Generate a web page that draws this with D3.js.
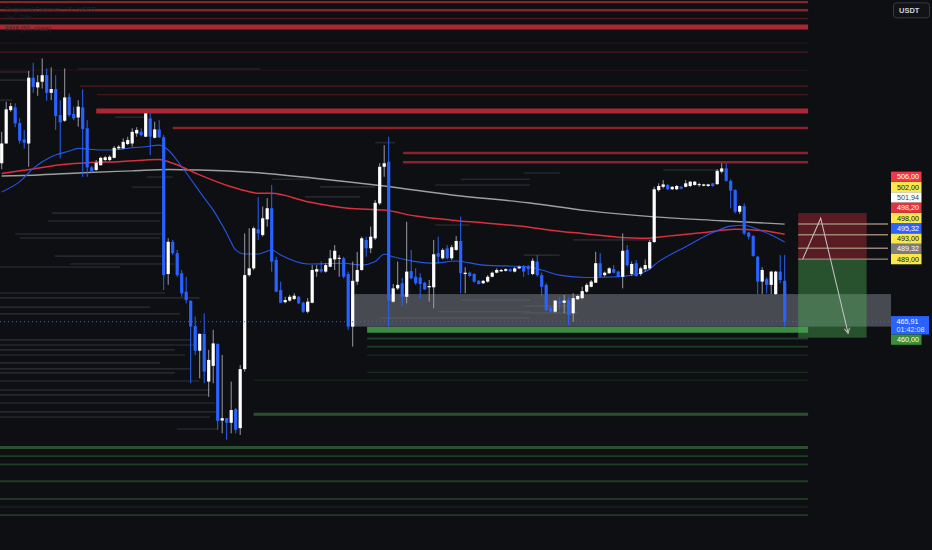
<!DOCTYPE html>
<html>
<head>
<meta charset="utf-8">
<script src="https://cdn.jsdelivr.net/npm/d3@7/dist/d3.min.js"></script>
<style>
  html, body { margin: 0; padding: 0; background: #0e0f13; }
  svg { display: block; }
</style>
</head>
<body>
<svg id="chart" width="932" height="550"></svg>
<script>
// bars, one row per candle: [open, high, low, close]
var candles = [
  [524.4,536.0,522.2,531.7],[531.7,547.1,531.7,544.3],[544.0,546.7,543.4,545.5],[545.0,546.5,537.7,539.1],
  [539.3,541.0,531.7,532.7],[533.2,536.7,529.8,532.0],[531.7,558.5,523.1,556.0],[556.0,561.5,550.4,552.6],
  [552.4,556.9,549.3,554.3],[554.5,563.1,552.0,556.9],[556.9,559.4,547.5,550.4],[550.4,559.8,547.7,551.8],
  [551.8,556.9,536.7,541.9],[542.2,547.7,526.2,539.5],[540.1,559.4,539.7,548.7],[548.9,550.2,541.6,542.2],
  [542.6,545.3,540.3,541.0],[541.3,547.7,537.9,545.3],[545.0,551.7,519.4,537.0],[537.3,540.3,519.4,522.9],
  [522.9,523.4,520.9,521.3],[521.9,525.6,521.6,524.6],[523.7,526.8,523.5,526.4],[525.6,527.1,525.2,526.6],
  [525.6,527.4,525.2,526.8],[526.4,530.8,526.2,530.1],[529.9,531.1,529.3,530.5],[529.9,533.6,529.6,532.3],
  [531.5,534.2,531.1,533.0],[531.7,537.3,530.5,536.0],[535.4,537.7,534.2,536.7],[536.0,537.3,534.4,534.8],
  [534.2,542.9,534.1,542.8],[541.0,542.9,527.4,534.2],[533.8,539.7,533.6,536.9],[536.9,540.3,533.7,534.0],
  [534.0,534.8,477.6,483.1],[483.5,496.7,479.5,495.4],[495.4,496.1,490.5,491.2],[491.2,492.4,482.5,483.1],
  [483.8,485.0,475.1,476.4],[477.0,482.5,472.7,473.9],[473.6,473.9,443.2,464.1],[464.3,467.8,453.6,455.2],
  [455.2,461.6,445.0,461.4],[461.4,469.0,443.2,447.5],[443.8,455.5,438.2,451.8],[449.6,462.9,443.2,457.9],
  [457.7,457.9,426.0,429.3],[429.4,453.6,424.7,430.3],[430.3,430.4,422.3,428.6],[428.6,443.8,424.7,433.3],
  [433.6,434.1,424.7,426.0],[426.6,449.9,424.1,448.4],[448.4,498.5,447.5,483.1],[483.1,500.4,482.5,485.6],
  [485.6,501.0,485.0,500.4],[500.0,511.9,496.1,498.5],[497.9,508.4,497.3,504.1],[503.7,511.5,501.0,507.8],
  [507.8,516.4,484.4,488.1],[488.7,489.9,476.8,477.0],[477.6,480.7,472.7,472.9],[473.1,475.1,472.7,473.9],
  [473.7,475.8,473.3,475.1],[474.3,476.4,473.9,475.5],[475.1,475.4,472.4,472.7],[472.9,473.3,469.2,469.6],
  [469.6,474.6,469.0,473.3],[472.9,486.8,472.7,485.0],[484.4,486.8,482.5,485.3],[485.3,488.1,484.0,484.4],
  [484.4,487.5,484.0,486.8],[486.2,492.4,486.0,489.3],[488.9,494.2,485.0,492.1],[489.1,490.5,482.5,489.5],
  [489.3,489.9,481.9,482.5],[483.5,484.4,462.9,464.1],[464.1,488.1,456.7,481.0],[480.7,491.7,479.5,485.0],
  [485.0,497.3,484.7,496.7],[496.1,497.3,489.9,493.0],[493.0,501.0,491.2,497.3],[496.7,510.8,496.1,509.8],
  [509.6,524.4,509.0,523.1],[523.1,531.1,519.4,524.4],[525.0,534.2,464.1,473.7],[473.3,479.8,472.9,478.2],
  [478.2,488.1,477.6,479.5],[480.1,482.0,471.7,475.1],[475.1,502.8,472.7,484.4],[484.6,492.4,481.6,481.9],
  [482.5,485.6,479.5,480.1],[482.2,483.8,474.2,479.8],[480.3,480.7,477.6,477.9],[478.6,481.3,473.3,479.1],
  [478.6,496.1,470.9,490.8],[491.2,497.3,487.5,489.9],[489.3,493.0,488.9,492.4],[493.0,494.2,488.9,489.3],
  [489.3,494.2,488.7,493.4],[492.4,497.5,492.1,495.7],[495.7,504.7,476.4,483.8],[483.5,486.0,476.4,484.0],
  [484.0,484.4,482.5,482.8],[483.5,483.8,480.3,480.7],[481.0,481.3,479.7,479.8],[480.1,481.3,479.8,481.0],
  [480.7,483.1,480.3,482.5],[482.5,484.4,482.3,484.0],[484.0,485.6,483.8,485.0],[484.5,485.4,484.3,485.0],
  [484.7,485.6,484.4,485.3],[485.3,485.6,484.3,484.5],[484.4,486.0,484.1,485.6],[485.6,486.6,485.3,486.2],
  [486.2,486.8,482.5,484.4],[486.2,486.8,483.1,485.3],[483.5,489.3,483.1,488.4],[488.1,490.5,482.5,483.1],
  [483.1,484.0,475.1,478.8],[479.5,480.1,470.0,470.2],[470.9,471.5,469.4,469.6],[469.6,473.9,469.2,473.7],
  [473.3,475.1,470.2,472.7],[472.9,475.8,469.0,473.7],[473.9,475.1,464.7,468.4],[469.0,476.4,465.9,474.6],
  [474.2,475.8,473.9,475.4],[474.6,478.8,474.2,477.2],[477.0,480.1,476.6,479.5],[478.8,481.3,478.6,480.7],
  [480.3,491.7,480.3,487.5],[487.5,491.2,482.3,482.5],[483.1,484.4,482.5,484.0],[483.8,486.0,483.5,485.6],
  [485.3,486.8,483.8,484.0],[484.4,484.7,482.3,482.5],[482.5,498.5,478.2,492.1],[492.4,494.2,486.2,486.8],
  [483.5,488.1,482.8,487.2],[487.5,488.7,482.5,482.8],[483.5,486.2,482.8,485.6],[485.3,488.9,484.4,486.8],
  [485.6,496.1,485.0,495.3],[495.3,515.7,495.0,514.8],[514.5,517.0,513.9,516.0],[515.7,518.2,515.1,516.6],
  [516.4,516.7,514.5,514.8],[514.8,516.0,514.5,515.7],[514.8,516.4,514.5,516.0],[515.7,516.0,514.8,515.0],
  [515.7,518.2,515.5,517.0],[516.0,517.8,515.6,517.6],[516.4,517.8,516.1,517.6],[516.3,517.2,515.7,516.7],
  [516.1,516.8,515.9,516.6],[516.0,516.8,515.7,516.6],[517.0,517.1,515.7,516.0],[516.7,522.2,516.4,521.6],
  [521.3,524.4,520.7,522.5],[522.5,524.4,517.6,517.9],[517.9,518.5,507.8,514.3],[514.5,514.8,505.9,506.5],
  [506.5,509.0,505.7,508.6],[508.6,509.6,497.9,498.5],[498.8,499.1,496.3,497.3],[497.5,497.9,489.9,490.2],
  [489.9,490.2,476.1,480.7],[480.7,486.0,476.1,485.0],[481.6,482.3,476.4,479.5],[479.5,484.7,476.1,484.4],
  [476.1,484.7,475.8,484.4],[484.4,490.5,480.1,481.3],[481.0,490.5,464.1,465.91]
];

// moving averages, read at sample bars
var fastIdx = [0,4,7,11,15,17,22,26,29,32,35,37,40,45,47,50,52,54,57,60,62,68,76,80,83,85,87,92,96,101,107,117,120,124,130,137,143,146,152,158,162,165,168,171,174];
var fastVal = [513.8,517.6,522.5,526.8,528.9,529.9,529.3,529.5,530.1,530.5,531.1,529.3,523.1,511.6,507.1,498.6,492.4,490.9,490.9,492.4,490.5,487.2,487.5,486.8,488.1,490.8,489.9,488.1,487.5,488.3,486.8,486.2,485.0,483.1,482.2,482.5,484.4,488.1,493.6,498.8,501.2,501.5,500.0,497.9,495.32];
var midIdx = [0,7,14,19,26,35,38,44,51,55,57,60,68,77,85,92,100,107,115,122,130,137,143,148,156,163,168,174];
var midVal = [520.6,522.3,524.0,524.6,525.0,525.8,524.4,520.1,515.7,513.9,513.3,513.3,510.2,507.8,507.1,504.9,503.4,502.4,501.2,499.7,498.3,497.1,496.7,497.5,498.8,500.0,499.7,498.2];
var slowIdx = [0,7,18,29,37,44,56,70,85,100,117,130,145,160,174];
var slowVal = [519.7,520.0,520.9,521.6,522.1,521.9,521.0,518.8,516.0,512.7,509.8,506.9,504.6,503.2,501.94];

// horizontal levels [price, first bar]
var redHeavy = [[574.7,0],[543.7,21]];
var redMedium = [[583.9,0],[580.9,0],[537.4,38],[528.2,89.2],[524.8,89.2]];
var redThin = [[577.8,0],[565.4,0],[552.9,17.4],[549.7,21.2]];
var redFaint = [[568.8,0],[558.8,0]];
var greenHeavy = [[462.9,81.2]];
var greenMedium = [[419.5,0],[431.7,56]];
var greenThin = [[459.7,81.2],[456.7,81.2],[416.3,0],[413.2,0],[407.0,0],[400.5,0],[394.5,0]];
var greenFaint = [[453.6,81.2],[447.2,81.2],[444.3,56],[397.5,0]];
// faint liquidity lines [price, first bar, last bar]
var greyLevels = [
  [559.2,17,57.4],[558.1,0,6.3],[555.1,0,7.4],[547.7,0,2.3],[541.4,25.2,31.9],[519.3,32.3,38],
  [515.6,29,35.8],[506.0,11.2,35.6],[503.1,10.3,35.2],[498.3,3,36.3],[496.8,4,35.2],[490.1,11.8,36.3],
  [487.2,15.2,38.5],[486.1,0,26.3],[476.5,0,36.3],[474.7,0,44],[471.3,0,33],[468.8,0,39.6],
  [459.2,0,41.9],[457.3,0,43],[455.5,0,38.5],[453.6,0,40.7],[450.7,0,35.2],[448.5,0,41.9],
  [447.0,0,38.5],[444.0,0,44],[440.7,0,46.3],[438.9,0,45.8],[435.9,0,47.4],[432.6,0,48.1],
  [430.7,0,46.3],[426.3,39,48.1],[532.0,83,87.4],[518.5,60,68.5],[515.7,70.7,83],[512.0,67.4,79.6],
  [501.6,96.3,104],[518.5,102,117.4],[516.4,96.3,117.4],[473.9,102,117.4],[469.6,97,117.4],
  [467.3,84,117.4],[471.7,116,127],[469.1,116,128],[520.8,116,124],[490.5,116,124],[496.1,127,145],
  [521.9,147,160]
];

var lastPrice = 465.91, countdown = "01:42:08";
var rangeTop = 476.1, rangeBottom = 464.1, rangeStart = 77.6;
var stopPrice = 506, entryPrice = 489, targetPrice = 460, posStart = 177, posEnd = 192.2;
var levelPrices = [502, 498, 493, 489];
var pathIdx = [178, 182, 188.1], pathPrice = [489, 504.1, 461.6];
var labelPrices = [506, 502, 501.94, 498.2, 498, 495.32, 493, 489.32, 489];
var labelKinds = ["stop", "line", "slow", "mid", "line", "fast", "line", "prev", "line"];

var svg = d3.select("#chart");
var x = d3.scaleLinear().domain([0, 174]).range([1.7, 784.7]);
var y = d3.scaleLinear().domain([460, 506]).range([337.7, 213.1]);
var axisX = 891, levelEnd = 179.2;

svg.append("rect").attr("width", 932).attr("height", 550).attr("fill", "#0e0f13");

function x0(i) { return i <= 0 ? 0 : x(i); }

function levels(list, color, width) {
  svg.append("g").selectAll("line").data(list).join("line")
    .attr("x1", d => x0(d[1])).attr("x2", d => d.length > 2 ? x(d[2]) : x(levelEnd))
    .attr("y1", d => y(d[0])).attr("y2", d => y(d[0]))
    .attr("stroke", color).attr("stroke-width", width);
}

levels(greyLevels, "#25272c", 1.6);
levels(redFaint, "#2a1417", 1);
levels(redThin, "#521820", 1.2);
levels(redMedium, "#8a212b", 2.4);
levels(redHeavy, "#aa2632", 4.8);
levels(greenFaint, "#182c1d", 1.2);
levels(greenThin, "#203d25", 1.8);
levels(greenMedium, "#2b5030", 3);
levels(greenHeavy, "#3c8a45", 6);

// faint legend text
var legend = svg.append("g").attr("font-family", "Liberation Sans, sans-serif").attr("font-size", 6.5).attr("fill", "#25262b");
legend.append("text").attr("x", 5).attr("y", 12).text("Perpetual Contract · 15 · USDT");
legend.append("text").attr("x", 5).attr("y", 20).attr("fill", "#202126").text("Vol · 24h");
legend.append("text").attr("x", 5).attr("y", 30.5).attr("fill", "#33292d").text("EMA (50, close)");

// range box
svg.append("rect")
  .attr("x", x(rangeStart)).attr("width", axisX - x(rangeStart))
  .attr("y", y(rangeTop)).attr("height", y(rangeBottom) - y(rangeTop))
  .attr("fill", "#787b86").attr("fill-opacity", 0.55);

// moving averages
function maLine(idx, val, color, width) {
  var line = d3.line().x(d => x(d[0])).y(d => y(d[1])).curve(d3.curveMonotoneX);
  svg.append("path").datum(idx.map((d, i) => [d, val[i]]))
    .attr("d", line).attr("fill", "none").attr("stroke", color).attr("stroke-width", width);
}
maLine(slowIdx, slowVal, "#9e9e9e", 1.4);
maLine(midIdx, midVal, "#dc2f3c", 1.5);
maLine(fastIdx, fastVal, "#2456e6", 1.1);

// candles
var bars = svg.append("g");
bars.selectAll("line").data(candles).join("line")
  .attr("x1", (d, i) => x(i)).attr("x2", (d, i) => x(i))
  .attr("y1", d => y(d[1])).attr("y2", d => y(d[2]))
  .attr("stroke", d => d[3] >= d[0] ? "#9a9ca3" : "#2962ff").attr("stroke-width", 1);
bars.selectAll("rect").data(candles).join("rect")
  .attr("x", (d, i) => x(i) - 1.6).attr("width", 3.2)
  .attr("y", d => y(Math.max(d[0], d[3])))
  .attr("height", d => Math.max(1, Math.abs(y(d[0]) - y(d[3]))))
  .attr("fill", d => d[3] >= d[0] ? "#ffffff" : "#2962ff");

// last price line
svg.append("line").attr("x1", 0).attr("x2", axisX)
  .attr("y1", y(lastPrice)).attr("y2", y(lastPrice))
  .attr("stroke", "#2962ff").attr("stroke-width", 1).attr("stroke-dasharray", "1,3");

// short position tool
var px1 = x(posStart), px2 = x(posEnd);
svg.append("rect").attr("x", px1).attr("width", px2 - px1)
  .attr("y", y(stopPrice)).attr("height", y(entryPrice) - y(stopPrice))
  .attr("fill", "#f23645").attr("fill-opacity", 0.33);
svg.append("rect").attr("x", px1).attr("width", px2 - px1)
  .attr("y", y(entryPrice)).attr("height", y(targetPrice) - y(entryPrice))
  .attr("fill", "#4caf50").attr("fill-opacity", 0.42);
svg.append("g").selectAll("line").data(levelPrices).join("line")
  .attr("x1", px1).attr("x2", axisX - 3)
  .attr("y1", d => y(d)).attr("y2", d => y(d))
  .attr("stroke", "#9c8474").attr("stroke-width", 1.4);

svg.append("defs").append("marker").attr("id", "arrow")
  .attr("viewBox", "0 0 10 10").attr("refX", 9).attr("refY", 5)
  .attr("markerWidth", 6).attr("markerHeight", 6).attr("orient", "auto")
  .append("path").attr("d", "M1,1 L9,5 L1,9").attr("fill", "none")
  .attr("stroke", "#bdbdbd").attr("stroke-width", 1.6);
svg.append("path")
  .datum(pathIdx.map((d, i) => [d, pathPrice[i]]))
  .attr("d", d3.line().x(d => x(d[0])).y(d => y(d[1])))
  .attr("fill", "none").attr("stroke", "#bdbdbd").attr("stroke-width", 1.1)
  .attr("marker-end", "url(#arrow)");

// price axis labels
var kindColor = {
  stop: ["#f23645", "#ffffff"], line: ["#fbe74a", "#131722"], slow: ["#ffffff", "#3a3d45"],
  mid: ["#e5323f", "#ffffff"], fast: ["#2962ff", "#ffffff"], prev: ["#7c7c7c", "#ffffff"]
};
var fmt = v => d3.format(".2f")(v).replace(".", ",");
var lblH = 10.3;
var items = labelPrices.map((p, i) => ({ p: p, kind: labelKinds[i] }))
  .sort((a, b) => a.p - b.p);
var prev = Infinity;
items.forEach(d => { d.cy = Math.min(y(d.p), prev - lblH); prev = d.cy; });

var axis = svg.append("g").attr("font-family", "Liberation Sans, sans-serif").attr("font-size", 7.2);
items.forEach(d => {
  axis.append("rect").attr("x", axisX).attr("y", d.cy - lblH / 2)
    .attr("width", 30.5).attr("height", lblH).attr("fill", kindColor[d.kind][0]);
  axis.append("text").attr("x", axisX + 6).attr("y", d.cy + 2.6)
    .attr("fill", kindColor[d.kind][1]).text(fmt(d.p));
});

var ly = y(lastPrice);
axis.append("rect").attr("x", axisX).attr("y", ly - 5.6).attr("width", 38).attr("height", 18.4).attr("fill", "#2962ff");
axis.append("text").attr("x", axisX + 5.5).attr("y", ly + 2.4).attr("fill", "#ffffff").text(fmt(lastPrice));
axis.append("text").attr("x", axisX + 5.5).attr("y", ly + 10.8).attr("fill", "#dfe6ff").text(countdown);
var ty = Math.max(y(targetPrice), ly + 12.8 + lblH / 2);
axis.append("rect").attr("x", axisX).attr("y", ty - lblH / 2).attr("width", 30.5).attr("height", lblH).attr("fill", "#388e3c");
axis.append("text").attr("x", axisX + 6).attr("y", ty + 2.6).attr("fill", "#ffffff").text(fmt(targetPrice));

// currency badge
svg.append("rect").attr("x", 893.5).attr("y", 2.8).attr("width", 36).attr("height", 15).attr("rx", 3)
  .attr("fill", "#121317").attr("stroke", "#363a45").attr("stroke-width", 1);
svg.append("text").attr("x", 899).attr("y", 13.2).attr("font-family", "Liberation Sans, sans-serif")
  .attr("font-size", 7.5).attr("font-weight", "bold").attr("fill", "#d1d4dc").text("USDT");
</script>
</body>
</html>
